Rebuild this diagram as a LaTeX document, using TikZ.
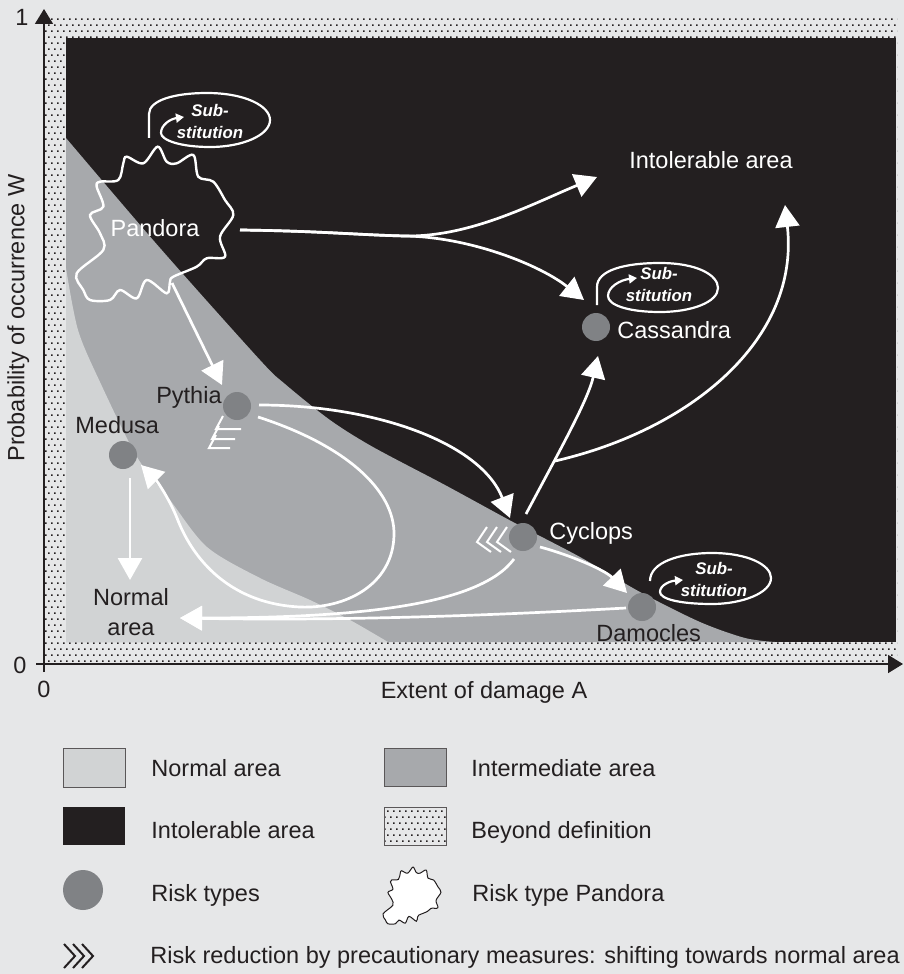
\documentclass[tikz,border=0pt]{standalone}
\usepackage{fontspec}
\setmainfont{Liberation Sans}
\usetikzlibrary{arrows.meta,patterns}

\definecolor{bgcol}{HTML}{E6E7E8}
\definecolor{intolerable}{HTML}{231F20}
\definecolor{intermediate}{HTML}{A7A9AC}
\definecolor{normalcol}{HTML}{D1D3D4}
\definecolor{riskcol}{HTML}{808285}
\definecolor{inkcol}{HTML}{231F20}

% staggered square dots for the region beyond definition
\pgfdeclarepatternformonly{sparsedots}{\pgfqpoint{-0.1pt}{-0.1pt}}{\pgfqpoint{3.1pt}{6.1pt}}{\pgfqpoint{3pt}{6pt}}{%
  \pgfpathrectangle{\pgfqpoint{0pt}{0pt}}{\pgfqpoint{0.85pt}{0.85pt}}%
  \pgfpathrectangle{\pgfqpoint{1.5pt}{3pt}}{\pgfqpoint{0.85pt}{0.85pt}}%
  \pgfusepath{fill}}

\tikzset{
  lbl/.style={font=\fontsize{11.75}{14}\selectfont, text=inkcol, inner sep=0pt, text height=8.4pt, text depth=0pt},
  wlbl/.style={lbl, text=white},
  lbltwo/.style={font=\fontsize{11.75}{15}\selectfont, text=inkcol, inner sep=0pt, align=center},
  flow/.style={draw=white, line width=1.35pt, -{Triangle[length=11pt,width=12pt]}},
  subloop/.style={draw=white, line width=1.1pt, -{Triangle[length=4pt,width=4.5pt]}},
  subtext/.style={font=\fontsize{8.4}{11}\selectfont\bfseries\itshape, text=white, inner sep=0pt, align=center},
  risk/.style={circle, fill=riskcol, minimum size=14pt, inner sep=0pt},
  chev/.style={draw=white, line width=1pt},
  beyond/.style={pattern=sparsedots, pattern color=inkcol},
  axisline/.style={draw=inkcol, line width=0.8pt, -{Triangle[length=7.5pt,width=9pt]}},
  legbox/.style={draw=inkcol!75, line width=0.5pt},
  pandorablob/.pic={
    \path[pic actions] plot[smooth cycle, tension=0.55] coordinates {
      (2.7,-78.3) (11.7,-63.3) (21.7,-61.7) (38.3,-70) (43.3,-48.3) (58.3,-43.3)
      (70,-25) (78.3,-10) (65,11.7) (70,31.7) (51.7,33.3) (41.7,41.7) (18.3,51.7)
      (15,56.7) (11.7,68.3) (-8.3,55) (-18.3,73.3) (-35,65) (-45,75) (-65,75)
      (-71.7,65) (-78.3,48.3) (-51.7,25) (-55,8.3) (-65,-10) (-51.7,-18.3)
      (-58.3,-38.3) (-55,-43.3) (-36.7,-45) (-31.7,-61.7) (-28.3,-68.3) (-11.7,-61.7)};
  }
}

\begin{document}
\begin{tikzpicture}[x=0.5pt, y=-0.5pt]
  % page
  \fill[bgcol] (0,0) rectangle (904,974);
  \useasboundingbox (0,0) rectangle (904,974);

  % region beyond definition
  \fill[beyond] (45,16) rectangle (897,663);

  % intolerable area
  \fill[intolerable] (66,38) rectangle (896,642);
  % intermediate area
  \fill[intermediate] plot[smooth, tension=0.5] coordinates {
      (66,138) (160,248) (260,360) (285,384) (330,420) (373,447) (445,485)
      (513,522) (580,557) (640,592) (700,622) (745,638) (775,642)}
    -- (66,642) -- cycle;
  % normal area
  \fill[normalcol] plot[smooth, tension=0.5] coordinates {
      (66,268) (78,330) (100,382) (137,457) (170,500) (207,547) (260,578)
      (310,600) (350,620) (388,642)}
    -- (66,642) -- cycle;

  % axes
  \draw[axisline] (44,672) -- (44,9);
  \draw[axisline] (36,664) -- (903,664);
  \node[lbl] (one) at (22,17) {1};
  \node[lbl] (zeroy) at (20,665) {0};
  \node[lbl] (zerox) at (44,689) {0};
  \node[lbl] (xlabel) at (484,690) {Extent of damage A};
  \node[lbl, rotate=90] (ylabel) at (16,318) {Probability of occurrence W};

  % Pandora
  \pic[draw=white, line width=1.2pt] at (155,225) {pandorablob};
  \node[wlbl] (pandora) at (155,228) {Pandora};
  \coordinate (pout) at (240,230);
  \coordinate (pbot) at (172,283);
  \coordinate (split) at (405,236);

  % risk types
  \node[risk] (pythia) at (237,406) {};
  \node[risk] (medusa) at (123,455) {};
  \node[risk] (cyclops) at (523,537) {};
  \node[risk] (damocles) at (642,607) {};
  \node[risk] (cassandra) at (596,327) {};

  \node[lbl, anchor=east] (pythialbl) at (222,395) {Pythia};
  \node[lbl, anchor=west] (medusalbl) at (75,425) {Medusa};
  \node[wlbl, anchor=west] (cyclopslbl) at (549,531) {Cyclops};
  \node[lbl, anchor=west] (damocleslbl) at (596,633) {Damocles};
  \node[wlbl, anchor=west] (cassandralbl) at (617,330) {Cassandra};
  \node[wlbl] (intol) at (711,160) {Intolerable area};
  \node[lbltwo] (normal) at (131,612) {Normal\\area};

  \coordinate (intolA) at (597,177);
  \coordinate (intolB) at (785,205);
  \coordinate (cassA) at (584,300);
  \coordinate (normalA) at (180,618);
  \coordinate (fork) at (555,461);

  % transitions between risk types
  \draw[flow] (pout) .. controls (320,231) and (360,235) .. (split)
              .. controls (470,237) and (530,205) .. (intolA);
  \draw[flow] (pout) .. controls (320,231) and (360,235) .. (split)
              .. controls (470,237) and (540,265) .. (cassA);
  \draw[flow] (pbot) -- (222,385);
  \draw[flow] (259,405) .. controls (380,405) and (482,445) .. (510,518);
  \draw[flow] (258,417) .. controls (345,445) and (395,490) .. (394,535)
              .. controls (393,585) and (345,609) .. (300,607)
              .. controls (235,604) and (195,565) .. (177,518)
              .. controls (168,496) and (156,480) .. (141,465);
  \draw[flow] (130,478) -- (130,580);
  \draw[flow] (626,608) .. controls (500,615) and (350,621) .. (normalA);
  \draw[flow] (514,559) .. controls (480,605) and (360,618) .. (normalA);
  \draw[flow] (540,547) .. controls (570,555) and (605,570) .. (627,593);
  \draw[flow] (526,514) .. controls (560,450) and (588,400) .. (598,356);
  \draw[flow] (fork) .. controls (690,430) and (800,340) .. (intolB);

  % substitution loops
  \draw[subloop] (149,138) -- (149,114) .. controls (149,100) and (175,93) .. (207,93)
     .. controls (245,93) and (270,106) .. (270,120)
     .. controls (270,135) and (243,147) .. (210,147)
     .. controls (180,147) and (161,140) .. (161,133)
     .. controls (161,125) and (170,119) .. (184,117);
  \node[subtext] (subpandora) at (210,121) {Sub-\\stitution};

  \draw[subloop] (597,305) -- (597,287) .. controls (597,270) and (625,263) .. (660,263)
     .. controls (697,263) and (718,275) .. (718,288)
     .. controls (718,302) and (692,312) .. (660,312)
     .. controls (628,312) and (608,305) .. (608,296)
     .. controls (608,287) and (620,280) .. (637,278);
  \node[subtext] (subcassandra) at (659,284) {Sub-\\stitution};

  \draw[subloop] (650,581) .. controls (650,562) and (680,553) .. (712,553)
     .. controls (748,553) and (771,565) .. (771,578)
     .. controls (771,593) and (742,604) .. (712,604)
     .. controls (680,604) and (660,599) .. (660,592)
     .. controls (660,585) and (670,581) .. (683,580);
  \node[subtext] (subdamocles) at (714,579) {Sub-\\stitution};

  % precautionary shifts
  \foreach \x/\y/\l in {216/429/25, 212/439/23, 209/448/21}
    \draw[chev] (\x+7,\y-13) -- (\x,\y) -- (\x+\l,\y);
  \foreach \x in {477,487,497}
    \draw[chev] (\x+10,527) -- (\x,542) -- (\x+14,552);

  % legend
  \draw[legbox, fill=normalcol] (63,748) rectangle (125,787);
  \node[lbl, anchor=west] (legnormal) at (151,768) {Normal area};
  \draw[legbox, fill=intermediate] (384,748) rectangle (446,786);
  \node[lbl, anchor=west] (leginter) at (471,768) {Intermediate area};
  \fill[intolerable] (63,807) rectangle (125,845);
  \node[lbl, anchor=west] (legintol) at (151,830) {Intolerable area};
  \draw[legbox, beyond] (384,807) rectangle (446,845);
  \node[lbl, anchor=west] (legbeyond) at (471,830) {Beyond definition};
  \node[risk, minimum size=20pt] (legrisk) at (83,890) {};
  \node[lbl, anchor=west] (legrisklbl) at (151,893) {Risk types};
  \pic[draw=inkcol, fill=white, line width=0.5pt, scale=0.37] at (412,896) {pandorablob};
  \node[lbl, anchor=west] (legpandora) at (472,893) {Risk type Pandora};
  \foreach \x in {64,73,82}
    \draw[inkcol, line width=1pt] (\x,944) -- (\x+11,956) -- (\x,968);
  \node[lbl, anchor=west] (legshift) at (150,955) {Risk reduction by precautionary measures: shifting towards normal area};
\end{tikzpicture}
\end{document}
